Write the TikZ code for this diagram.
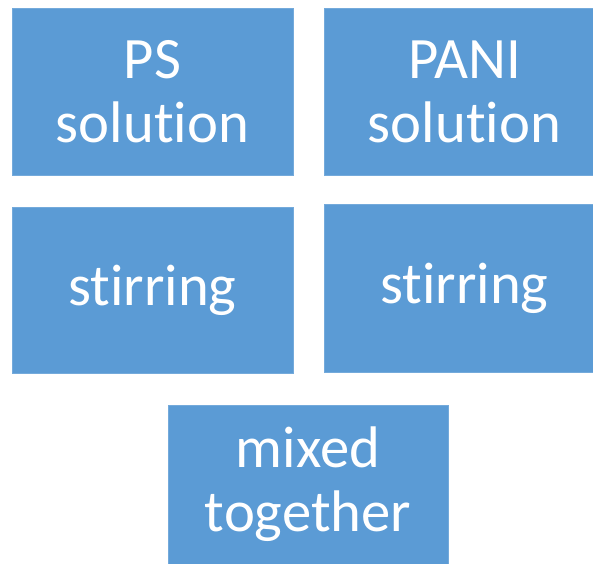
\documentclass[tikz,border=0pt]{standalone}
\usepackage{fontspec}
\setmainfont[Ligatures=NoCommon, Contextuals=NoAlternate, RawFeature={-liga;-clig;-calt;-dlig}]{Carlito}
\usepackage{tikz}
\usepackage{xcolor}
\usetikzlibrary{positioning}
\definecolor{boxblue}{HTML}{5B9BD5}

\begin{document}
\begin{tikzpicture}[x=0.75pt, y=-0.75pt,
  box/.style={fill=boxblue, draw=boxblue!85!white, line width=0.4pt, text=white,
    align=center, inner sep=0pt, font=\fontsize{44}{48}\selectfont}
]
  \useasboundingbox (0,0) rectangle (593,564);

  \node[box, minimum width=281*0.75pt, minimum height=167*0.75pt] (ps) at (152.5,91.5) {PS\\solution};
  \node[box, minimum width=281*0.75pt, minimum height=167*0.75pt] (pani) at (464.5,91.5) {PANI\\solution};
  \node[box, minimum width=281*0.75pt, minimum height=166*0.75pt] (stirA) at (152.5,290) {stirring};
  \node[box, minimum width=281*0.75pt, minimum height=168*0.75pt] (stirB) at (464.5,288) {stirring};
  \node[box, minimum width=280*0.75pt, minimum height=159*0.75pt] (mix) at (308,484.5) {mixed\\together};
\end{tikzpicture}
\end{document}
